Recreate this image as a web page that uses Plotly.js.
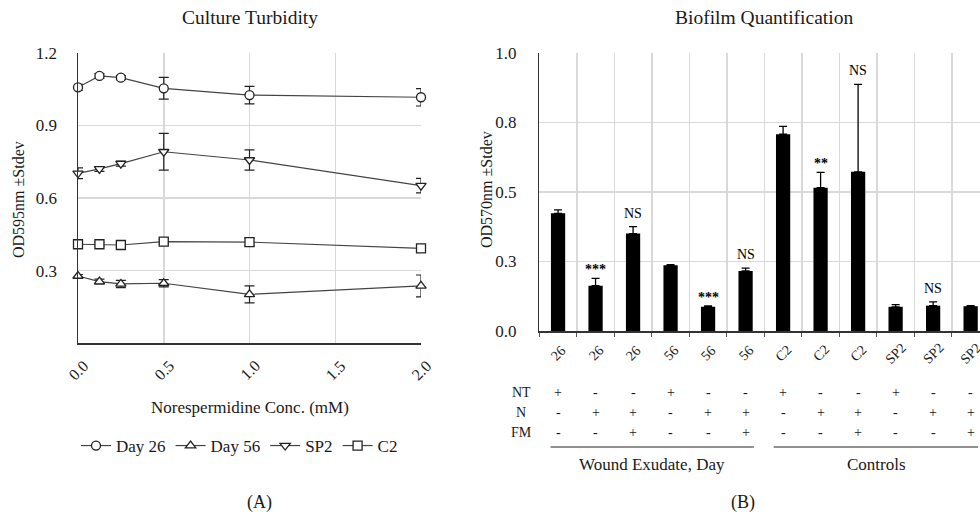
<!DOCTYPE html>
<html><head><meta charset="utf-8">
<script src="https://cdn.plot.ly/plotly-3.0.1.min.js"></script>
<style>html,body{margin:0;padding:0;background:#fff}#chart{width:980px;height:514px}</style>
</head><body><div id="chart"></div>
<script>
// ---- Panel A: Culture Turbidity ----
const conc = [0, 0.125, 0.25, 0.5, 1.0, 2.0];
const concTicks = [0, 0.5, 1.0, 1.5, 2.0];
const concTickText = ['0.0', '0.5', '1.0', '1.5', '2.0'];
const day26 = [1.057, 1.104, 1.097, 1.053, 1.025, 1.016];
const day26Err = [0.012, 0.01, 0.008, 0.045, 0.036, 0.036];
const day56 = [0.278, 0.255, 0.245, 0.248, 0.202, 0.237];
const day56Err = [0.006, 0.01, 0.015, 0.015, 0.035, 0.045];
const sp2 = [0.702, 0.72, 0.742, 0.791, 0.757, 0.651];
const sp2Err = [0.022, 0.01, 0.01, 0.076, 0.042, 0.03];
const c2 = [0.409, 0.409, 0.406, 0.42, 0.418, 0.392];
const c2Err = [0.008, 0.008, 0.008, 0.01, 0.015, 0.01];
const seriesNames = ['Day 26', 'Day 56', 'SP2', 'C2'];
const seriesSymbols = ['circle', 'triangle-up', 'triangle-down', 'square'];

// ---- Panel B: Biofilm Quantification ----
const biofilmCats = ['26','26','26','56','56','56','C2','C2','C2','SP2','SP2','SP2'];
const biofilmVals = [0.423, 0.163, 0.350, 0.236, 0.087, 0.216, 0.707, 0.515, 0.572, 0.087, 0.091, 0.089];
const biofilmErr = [0.012, 0.026, 0.025, 0.002, 0.003, 0.01, 0.028, 0.055, 0.314, 0.008, 0.014, 0.002];
const sigLabels = ['', '***', 'NS', '', '***', 'NS', '', '**', 'NS', '', 'NS', ''];
const rowNT = ['+','-','-','+','-','-','+','-','-','+','-','-'];
const rowN  = ['-','+','+','-','+','+','-','+','+','-','+','+'];
const rowFM = ['-','-','+','-','-','+','-','-','+','-','-','+'];
const rowNames = ['NT', 'N', 'FM'];
const groupNames = ['Wound Exudate, Day', 'Controls'];

const FONT = 'Liberation Serif, Times New Roman, serif';
const TXT = '#1a1a1a';
const AX = '#333';
const GRID = '#d9d9d9';

const lineData = [day26, day56, sp2, c2];
const lineErr = [day26Err, day56Err, sp2Err, c2Err];
const traces = lineData.map((vals, k) => ({
  type: 'scatter', mode: 'lines+markers', name: seriesNames[k],
  x: conc, y: vals, xaxis: 'x', yaxis: 'y', cliponaxis: false,
  line: {color: '#444', width: 1.2},
  marker: {symbol: seriesSymbols[k], size: 9, color: '#fff', line: {color: '#222', width: 1.3}},
  error_y: {type: 'data', array: lineErr[k], visible: true, color: '#222', thickness: 1.2, width: 5}
}));
const bi = biofilmVals.map((v, i) => i);
traces.push({
  type: 'bar', x: bi, y: biofilmVals, xaxis: 'x2', yaxis: 'y2', width: 0.38,
  marker: {color: '#000'}, showlegend: false, cliponaxis: false,
  error_y: {type: 'data', symmetric: false, array: biofilmErr, arrayminus: biofilmErr.map(() => 0),
            color: '#000', thickness: 1.3, width: 4}
});

const ann = [];
const f = (s, c) => ({family: FONT, size: s, color: c || TXT});
const yp = (px) => 1 - px / 514;
const xp = (px) => px / 980;
const A = (o) => ann.push(Object.assign({showarrow: false, xanchor: 'center', yanchor: 'middle'}, o));
A({text: 'Culture Turbidity', xref: 'paper', yref: 'paper', x: xp(249.5), y: yp(18), font: f(19.5)});
A({text: 'Biofilm Quantification', xref: 'paper', yref: 'paper', x: xp(764), y: yp(18), font: f(19.5)});
A({text: 'OD595nm ±Stdev', xref: 'paper', yref: 'paper', x: xp(19), y: yp(200), textangle: -90, font: f(16)});
A({text: 'OD570nm ±Stdev', xref: 'paper', yref: 'paper', x: xp(486), y: yp(190), textangle: -90, font: f(16)});
A({text: 'Norespermidine Conc. (mM)', xref: 'paper', yref: 'paper', x: xp(250), y: yp(407), font: f(17)});
A({text: '(A)', xref: 'paper', yref: 'paper', x: xp(259), y: yp(502), font: f(18)});
A({text: '(B)', xref: 'paper', yref: 'paper', x: xp(743), y: yp(502), font: f(18)});
concTicks.forEach((v, i) => A({text: concTickText[i], xref: 'x', yref: 'paper', x: v, y: yp(370), textangle: -45, font: f(16)}));
biofilmCats.forEach((c, i) => A({text: c, xref: 'x2', yref: 'paper', x: i, y: yp(353), textangle: -45, font: f(14)}));
[rowNT, rowN, rowFM].forEach((row, r) => {
  const ypx = [392, 412, 432][r];
  A({text: rowNames[r], xref: 'paper', yref: 'paper', x: xp(521), y: yp(ypx), font: f(14)});
  row.forEach((s, i) => A({text: s, xref: 'x2', yref: 'paper', x: i, y: yp(ypx), font: f(14)}));
});
sigLabels.forEach((s, i) => {
  if (!s) return;
  const star = s.startsWith('*');
  A({text: star ? '<b>' + s + '</b>' : s, xref: 'x2', yref: 'y2', x: i, y: biofilmVals[i] + biofilmErr[i], yanchor: 'bottom',
     yshift: star ? -1 : 4, font: f(14, '#000')});
});
A({text: groupNames[0], xref: 'x2', yref: 'paper', x: 2.5, y: yp(464), font: f(17)});
A({text: groupNames[1], xref: 'x2', yref: 'paper', x: 8.5, y: yp(464), font: f(17)});

const shapes = [
  {type: 'line', xref: 'x2', yref: 'paper', x0: -0.2, x1: 5.22, y0: yp(447), y1: yp(447), line: {color: '#222', width: 1.2}},
  {type: 'line', xref: 'x2', yref: 'paper', x0: 5.75, x1: 11.2, y0: yp(447), y1: yp(447), line: {color: '#222', width: 1.2}}
];

const layout = {
  width: 980, height: 514, margin: {l: 0, r: 0, t: 0, b: 0},
  paper_bgcolor: '#fff', plot_bgcolor: '#fff',
  font: {family: FONT, size: 13, color: TXT},
  showlegend: true,
  legend: {orientation: 'h', x: xp(76), y: yp(446), yanchor: 'middle', xanchor: 'left',
           font: f(17), itemwidth: 30, tracegroupgap: 0, bgcolor: 'rgba(0,0,0,0)'},
  xaxis: {domain: [xp(78), xp(421)], range: [0, 2], tickvals: concTicks, showticklabels: false,
          showgrid: true, gridcolor: GRID, gridwidth: 1.5, zeroline: false,
          showline: true, linecolor: AX, linewidth: 1.5, ticks: '', anchor: 'y'},
  yaxis: {domain: [yp(343.3), yp(52.7)], range: [0, 1.2], tickvals: [0.3, 0.6, 0.9, 1.2], ticktext: ['0.3','0.6','0.9','1.2'],
          showgrid: true, gridcolor: GRID, gridwidth: 1.5, zeroline: false,
          showline: true, linecolor: AX, linewidth: 1.5, ticks: '', ticklabelstandoff: 16, tickfont: f(17), anchor: 'x'},
  xaxis2: {domain: [xp(539.3), 1], range: [-0.5, 11.25], tickvals: [-0.5,0.5,1.5,2.5,3.5,4.5,5.5,6.5,7.5,8.5,9.5,10.5],
           showticklabels: false, showgrid: true, gridcolor: GRID, gridwidth: 1.5, zeroline: false,
           showline: true, linecolor: AX, linewidth: 1.5, ticks: 'outside', ticklen: 4, tickcolor: '#555', anchor: 'y2'},
  yaxis2: {domain: [yp(331), yp(52.7)], range: [0, 1.0], tickvals: [0, 0.25, 0.5, 0.75, 1.0], ticktext: ['0.0','0.3','0.5','0.8','1.0'],
           showgrid: true, gridcolor: GRID, gridwidth: 1.5, zeroline: false,
           showline: true, linecolor: AX, linewidth: 1.5, ticks: '', ticklabelstandoff: 18, tickfont: f(17), anchor: 'x2'},
  annotations: ann, shapes: shapes
};
Plotly.newPlot('chart', traces, layout, {displayModeBar: false, staticPlot: true});
</script></body></html>
